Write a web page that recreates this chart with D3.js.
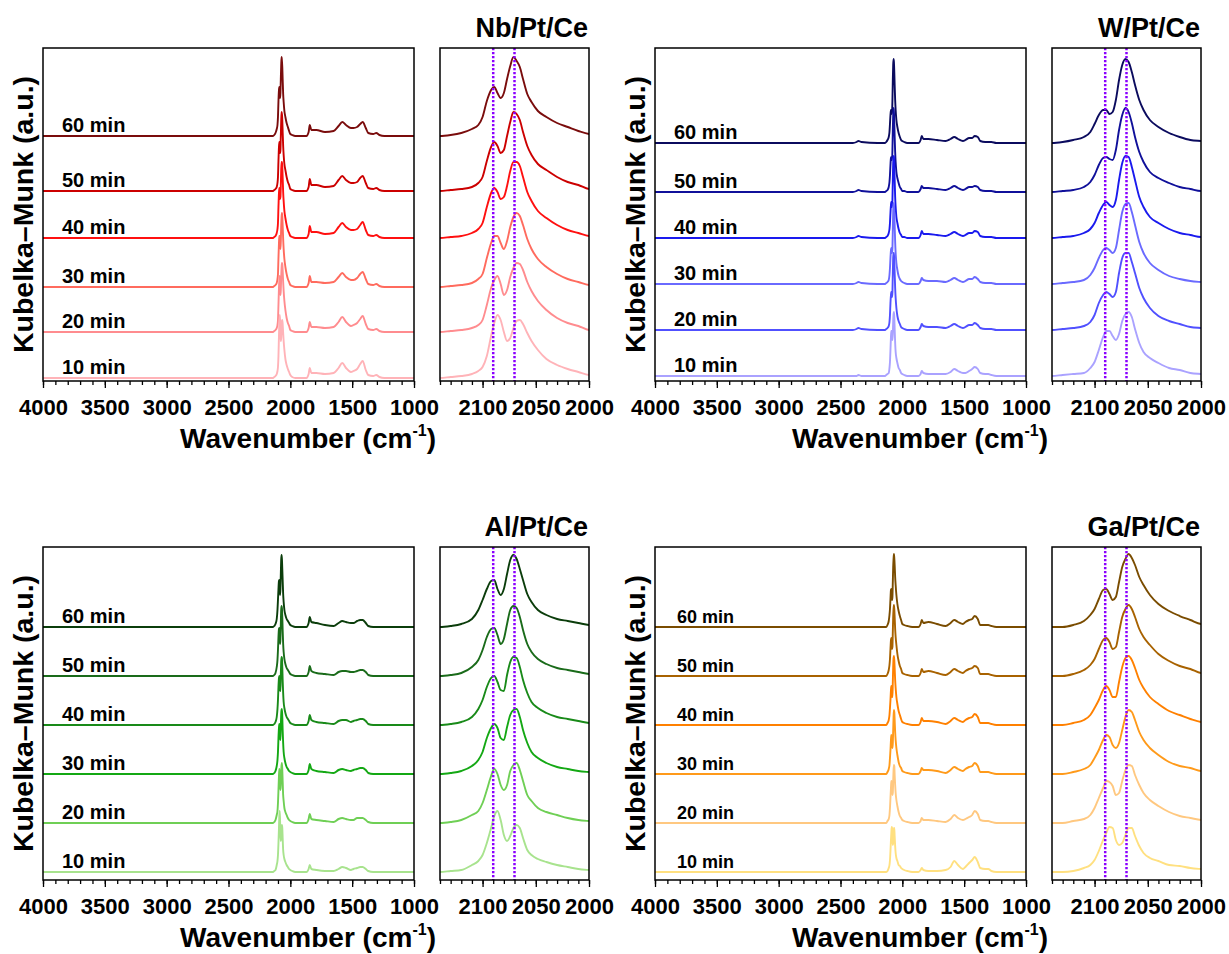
<!DOCTYPE html>
<html>
<head>
<meta charset="utf-8">
<script src="https://cdn.jsdelivr.net/npm/d3@7"></script>
<style>
  body { margin: 0; background: #fff; }
  svg text { font-family: "Liberation Sans", Arial, sans-serif; font-weight: bold; fill: #000; }
</style>
</head>
<body>
<svg id="svg"></svg>
<script>
// ---- data (intensity above each trace's own baseline, a.u.) ----
const wavenumbers = [4000, 3000, 2400, 2370, 2355, 2330, 2200, 2150,
  2140, 2130, 2120, 2110, 2104, 2100, 2096, 2092, 2089, 2086, 2083, 2080, 2077, 2074, 2071, 2068, 2065, 2062, 2058, 2054, 2048, 2040, 2030, 2020, 2010, 2000,
  1985, 1960, 1920, 1870, 1852, 1843, 1830, 1790, 1720, 1650, 1610, 1580, 1550, 1510, 1490, 1460, 1435, 1415, 1390, 1370, 1330, 1305, 1280, 1240, 1000];
const times = ["10 min", "20 min", "30 min", "40 min", "50 min", "60 min"];
const markerLines = [2090, 2070];
const mainTicks = [4000, 3500, 3000, 2500, 2000, 1500, 1000];
const zoomTicks = [2100, 2050, 2000];
const titles = ["Nb/Pt/Ce", "W/Pt/Ce", "Al/Pt/Ce", "Ga/Pt/Ce"];

// Nb/Pt/Ce
const nbOffsets = [3, 49, 94, 143, 190, 245];
const nb10 = [0,0,0,0,0,0,0,0,
  0,1,2,4,7,11,22,42,55,63,58,46,37,40,50,57,58,54,45,37,28,19,13,9,6,3,
  1,0,0,0,4,10,5,5,4,5,10,15,10,6,7,9,14,17,8,3,2,3,1,0,0];
const nb20 = [0,0,0,0,0,0,0,0,
  0,1,2,4,7,12,27,44,52,56,48,37,42,55,64,69,68,62,50,41,31,22,14,9,6,2,
  1,0,0,0,4,10,5,5,4,5,10,15,10,6,7,9,13,16,8,3,2,3,1,0,0];
const nb30 = [0,0,0,0,0,0,0,0,
  0,1,2,4,8,13,29,44,51,51,44,38,46,60,70,74,71,62,48,38,28,20,13,8,5,2,
  1,0,0,0,4,11,5,5,4,5,10,14,10,7,7,9,13,15,8,3,2,3,1,0,0];
const nb40 = [0,0,0,0,0,0,0,0,
  0,1,2,5,9,15,31,45,50,46,39,41,52,67,76,76,72,61,46,37,27,20,13,8,5,2,
  1,0,0,0,4,12,6,6,4,5,11,15,11,8,8,9,13,16,8,3,2,3,1,0,0];
const nb50 = [0,0,0,0,0,0,0,0,
  0,1,2,4,8,14,30,44,49,45,38,41,55,69,79,77,71,59,45,36,27,21,14,9,6,2,
  1,0,0,0,4,12,6,6,4,5,11,15,11,8,8,9,13,15,8,3,2,3,1,0,0];
const nb60 = [0,0,0,0,0,0,0,0,
  0,1,3,7,11,19,35,46,49,43,38,43,57,70,79,75,69,57,42,34,25,19,13,9,5,2,
  1,0,0,0,4,11,6,6,4,5,10,14,11,8,8,9,12,14,8,3,2,3,1,0,0];

// W/Pt/Ce
const wOffsets = [5, 51, 97, 143, 189, 238];
const w10 = [0,0,0,0,1,0,0,0,
  0,1,2,3,8,14,26,39,45,45,40,36,42,55,62,64,59,47,33,24,18,13,8,6,3,2,
  1,0,0,0,2,5,3,2,2,2,4,7,5,3,3,5,7,9,7,3,2,2,1,0,0];
const w20 = [0,0,0,1,2,1,0,0,
  0,1,2,4,8,15,27,35,38,36,33,38,57,72,77,77,68,57,42,32,22,14,9,6,3,2,
  1,0,0,0,3,6,4,3,3,2,4,6,4,2,3,5,5,7,5,2,1,1,1,0,0];
const w30 = [0,0,0,1,2,1,0,0,
  0,1,2,4,9,16,26,34,36,34,31,36,54,72,80,81,72,59,42,31,21,14,8,5,3,2,
  1,0,0,0,3,6,4,3,3,2,4,6,4,2,3,5,5,7,5,2,1,1,1,0,0];
const w40 = [0,0,0,1,2,1,0,0,
  0,1,2,5,9,15,25,33,36,33,31,38,58,75,82,81,71,58,41,31,21,15,9,5,3,1,
  1,0,0,0,3,7,4,4,3,2,4,6,4,2,3,5,5,7,6,2,1,1,1,0,0];
const w50 = [0,0,0,1,2,1,0,0,
  0,1,2,5,10,17,27,34,35,33,32,42,62,77,84,80,69,55,40,30,20,14,9,5,3,1,
  1,0,0,0,3,6,4,4,3,2,4,6,4,2,3,5,5,6,5,2,1,1,1,0,0];
const w60 = [0,0,0,1,2,1,0,0,
  0,1,3,6,11,19,28,33,33,29,31,43,63,78,84,81,71,58,43,33,23,16,10,6,3,2,
  1,0,0,0,3,7,4,4,3,2,4,6,4,2,3,5,5,7,6,2,1,1,1,0,0];

// Al/Pt/Ce
const alOffsets = [8, 57, 106, 155, 204, 253];
const al10 = [0,0,0,0,0,0,0,0,
  0,1,2,7,11,17,29,44,56,61,52,37,31,36,44,47,44,34,22,17,13,10,7,5,3,2,
  1,0,0,0,3,7,3,2,1,1,3,5,4,2,3,4,5,5,3,1,0,0,0,0,0];
const al20 = [0,0,0,0,0,0,0,0,
  0,1,3,8,12,20,33,47,54,49,38,33,38,52,58,60,53,42,28,22,15,11,8,5,3,2,
  1,0,0,0,4,9,4,3,2,1,4,5,4,3,3,5,5,5,3,1,0,0,0,0,0];
const al30 = [0,0,0,0,0,0,0,0,
  0,1,3,8,14,22,36,46,50,46,36,34,47,59,64,65,57,44,31,22,16,11,7,5,3,2,
  1,0,0,0,4,10,5,3,2,1,4,5,4,3,4,5,6,6,4,1,0,0,0,0,0];
const al40 = [0,0,0,0,0,0,0,0,
  0,1,3,8,16,25,38,47,49,43,35,34,50,63,68,67,58,45,32,23,17,12,8,6,4,2,
  1,0,0,0,4,10,5,3,2,1,4,5,5,3,4,5,6,6,4,1,0,0,0,0,0];
const al50 = [0,0,0,0,0,0,0,0,
  0,1,3,9,16,26,39,47,48,41,32,37,52,66,70,68,59,46,32,24,17,12,8,6,4,2,
  1,0,0,0,4,10,5,3,2,1,4,5,5,4,4,5,6,6,4,1,0,0,0,0,0];
const al60 = [0,0,0,0,0,0,0,0,
  0,1,3,8,17,27,38,46,47,38,32,38,53,67,72,68,58,47,33,25,17,12,8,6,4,2,
  1,0,0,0,4,10,5,4,2,1,4,6,5,4,4,6,7,7,4,1,0,0,0,0,0];

// Ga/Pt/Ce
const gaOffsets = [8, 57, 106, 155, 204, 253];
const ga10 = [0,0,0,0,0,0,0,0,
  0,0,1,4,7,12,21,32,39,45,44,32,27,29,37,44,44,36,26,19,14,11,7,6,4,3,
  2,1,0,0,2,4,2,1,1,2,5,11,7,3,5,9,12,15,10,4,3,3,1,0,0];
const ga20 = [0,0,0,0,0,0,0,0,
  0,0,2,4,8,15,25,35,42,41,37,28,30,42,53,58,57,48,38,30,23,17,11,7,5,3,
  2,1,0,0,2,5,3,3,2,1,4,8,5,3,4,6,8,12,9,3,2,2,1,0,0];
const ga30 = [0,0,0,0,0,0,0,0,
  0,0,2,5,9,16,24,34,39,37,29,26,31,44,57,64,62,54,42,34,26,19,12,8,6,3,
  2,1,0,0,3,6,4,4,3,1,4,7,5,3,5,7,8,11,8,2,2,2,1,0,0];
const ga40 = [0,0,0,0,0,0,0,0,
  0,0,2,5,10,17,25,35,39,35,28,28,43,58,67,69,65,57,45,37,28,21,14,10,6,3,
  2,1,0,0,3,7,4,4,3,1,4,7,5,3,5,7,8,11,8,2,2,2,1,0,0];
const ga50 = [0,0,0,0,0,0,0,0,
  0,0,2,6,11,17,27,36,38,34,27,29,44,59,67,71,67,59,47,39,31,22,15,10,7,3,
  2,1,0,0,3,7,4,5,3,1,4,7,5,3,5,7,8,10,8,2,2,2,1,0,0];
const ga60 = [0,0,0,0,0,0,0,0,
  0,0,2,6,12,18,28,37,38,33,27,30,45,60,68,73,69,62,50,42,32,23,16,11,7,3,
  2,1,0,0,3,7,4,5,3,1,4,7,5,3,5,7,8,11,8,2,2,2,1,0,0];

const nbColors = ["#ffb3b8", "#ff8c8f", "#ff6b5e", "#ff1010", "#cc0000", "#7a0c0c"];
const wColors  = ["#aaa2ff", "#5050ff", "#6a6aff", "#1a1aee", "#10109a", "#0b0b5e"];
const alColors = ["#a8e38e", "#6fcf55", "#14a814", "#198a19", "#1a6b1a", "#0b3d0b"];
const gaColors = ["#ffe080", "#ffc880", "#ff9a1a", "#ff8000", "#a86200", "#7a4c00"];

// ---- layout ----
const layout = {width: 1229, height: 954, mainWidth: 371, zoomGap: 397, zoomWidth: 149, plotHeight: 333};

const panels = [
  {title: titles[0], left: 43,  top: 48,  offsets: nbOffsets, spectra: [nb10, nb20, nb30, nb40, nb50, nb60], colors: nbColors, labelSize: 20, labelDx: 19},
  {title: titles[1], left: 655, top: 48,  offsets: wOffsets,  spectra: [w10, w20, w30, w40, w50, w60],       colors: wColors,  labelSize: 20, labelDx: 19},
  {title: titles[2], left: 43,  top: 547, offsets: alOffsets, spectra: [al10, al20, al30, al40, al50, al60], colors: alColors, labelSize: 20, labelDx: 19},
  {title: titles[3], left: 655, top: 547, offsets: gaOffsets, spectra: [ga10, ga20, ga30, ga40, ga50, ga60], colors: gaColors, labelSize: 18, labelDx: 22}
];

const svg = d3.select("#svg").attr("width", layout.width).attr("height", layout.height);

function styleAxis(sel) {
  sel.select(".domain").remove();
  sel.selectAll("line").attr("stroke", "#000").attr("stroke-width", 1.3);
  sel.selectAll("text").attr("font-size", 22).attr("fill", "#000");
}

panels.forEach((p, pi) => {
  const bottom = p.top + layout.plotHeight;
  const zl = p.left + layout.zoomGap;

  const xMain = d3.scaleLinear().domain([4000, 1000]).range([p.left, p.left + layout.mainWidth]);
  const xZoom = d3.scaleLinear().domain([2140, 2000]).range([zl, zl + layout.zoomWidth]);
  const yScale = d3.scaleLinear().domain([0, layout.plotHeight]).range([bottom, p.top]);

  const rows = p.spectra.map((s, i) => {
    if (s.length !== wavenumbers.length) console.error("length mismatch", p.title, times[i], s.length);
    return {
      time: times[i],
      color: p.colors[i],
      offset: p.offsets[i],
      points: wavenumbers.map((w, j) => [w, p.offsets[i] + s[j]])
    };
  }).reverse();   // 60 min drawn first, 10 min on top

  const g = svg.append("g").attr("class", "panel");

  svg.append("clipPath").attr("id", "clipMain" + pi)
    .append("rect").attr("x", p.left).attr("y", p.top).attr("width", layout.mainWidth).attr("height", layout.plotHeight);
  svg.append("clipPath").attr("id", "clipZoom" + pi)
    .append("rect").attr("x", zl).attr("y", p.top).attr("width", layout.zoomWidth).attr("height", layout.plotHeight);

  const lineMain = d3.line().x(d => xMain(d[0])).y(d => yScale(d[1])).curve(d3.curveMonotoneX);
  const lineZoom = d3.line().x(d => xZoom(d[0])).y(d => yScale(d[1])).curve(d3.curveMonotoneX);

  g.append("g").attr("clip-path", `url(#clipMain${pi})`)
    .selectAll("path").data(rows).join("path")
    .attr("d", d => lineMain(d.points))
    .attr("fill", "none").attr("stroke", d => d.color).attr("stroke-width", 1.9)
    .attr("stroke-linejoin", "round");

  g.append("g").attr("clip-path", `url(#clipZoom${pi})`)
    .selectAll("path").data(rows).join("path")
    .attr("d", d => lineZoom(d.points))
    .attr("fill", "none").attr("stroke", d => d.color).attr("stroke-width", 1.9)
    .attr("stroke-linejoin", "round");

  // dotted reference lines
  g.selectAll(".marker").data(markerLines).join("line")
    .attr("class", "marker")
    .attr("x1", d => xZoom(d)).attr("x2", d => xZoom(d))
    .attr("y1", p.top).attr("y2", bottom)
    .attr("stroke", "#8a00ff").attr("stroke-width", 2.5)
    .attr("stroke-dasharray", "2.2,1.8");

  // time labels
  g.selectAll(".timeLabel").data(rows).join("text")
    .attr("class", "timeLabel")
    .attr("x", p.left + p.labelDx)
    .attr("y", d => yScale(d.offset) - 4)
    .attr("font-size", p.labelSize)
    .text(d => d.time);

  // frames
  g.append("rect").attr("x", p.left).attr("y", p.top).attr("width", layout.mainWidth).attr("height", layout.plotHeight)
    .attr("fill", "none").attr("stroke", "#000").attr("stroke-width", 1.5);
  g.append("rect").attr("x", zl).attr("y", p.top).attr("width", layout.zoomWidth).attr("height", layout.plotHeight)
    .attr("fill", "none").attr("stroke", "#000").attr("stroke-width", 1.5);

  // axes: minor ticks then labelled major ticks
  g.append("g").attr("transform", `translate(0,${bottom})`)
    .call(d3.axisBottom(xMain).tickValues(d3.range(1000, 4001, 100)).tickSize(4).tickSizeOuter(0).tickFormat(""))
    .call(styleAxis);
  g.append("g").attr("transform", `translate(0,${bottom})`)
    .call(d3.axisBottom(xMain).tickValues(mainTicks).tickSize(7).tickSizeOuter(0).tickPadding(11).tickFormat(d3.format("d")))
    .call(styleAxis);
  g.append("g").attr("transform", `translate(0,${bottom})`)
    .call(d3.axisBottom(xZoom).tickValues(d3.range(2000, 2141, 10)).tickSize(4).tickSizeOuter(0).tickFormat(""))
    .call(styleAxis);
  g.append("g").attr("transform", `translate(0,${bottom})`)
    .call(d3.axisBottom(xZoom).tickValues(zoomTicks).tickSize(7).tickSizeOuter(0).tickPadding(11).tickFormat(d3.format("d")))
    .call(styleAxis);

  // axis titles
  const xt = g.append("text")
    .attr("x", p.left + 265).attr("y", bottom + 67)
    .attr("text-anchor", "middle").attr("font-size", 28);
  xt.append("tspan").text("Wavenumber (cm");
  xt.append("tspan").attr("font-size", 16).attr("dy", -12).text("-1");
  xt.append("tspan").attr("dy", 12).text(")");

  g.append("text")
    .attr("transform", `translate(${p.left - 10},${p.top + layout.plotHeight / 2}) rotate(-90)`)
    .attr("text-anchor", "middle").attr("font-size", 28.5)
    .text("Kubelka\u2013Munk (a.u.)");

  g.append("text")
    .attr("x", zl + layout.zoomWidth - 1).attr("y", p.top - 11)
    .attr("text-anchor", "end").attr("font-size", 27)
    .text(p.title);
});
</script>
</body>
</html>
